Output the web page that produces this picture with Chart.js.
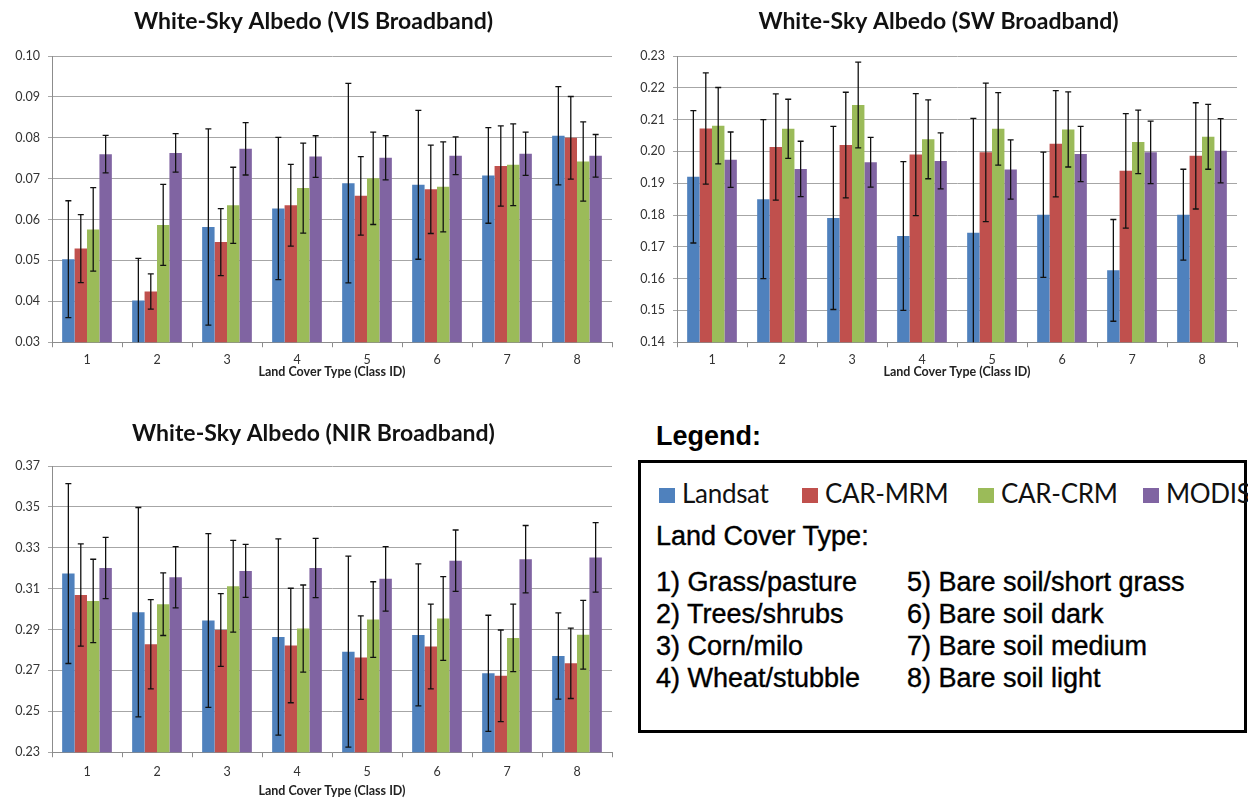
<!DOCTYPE html>
<html lang="en">
<head>
  <meta charset="UTF-8">
  <title>White-Sky Albedo</title>
  <style>
    body { margin: 0; background: #fff; width: 1248px; height: 798px; position: relative; overflow: hidden; }
    canvas { position: absolute; }
    .txt { position: absolute; font-family: "Liberation Sans", Arial, sans-serif; font-size: 27px; line-height: 27px; color: #000; white-space: nowrap; -webkit-text-stroke: 0.4px #000; }
    #legendBox { position: absolute; left: 638px; top: 460px; width: 609px; height: 273px; box-sizing: border-box; border: 3px solid #000; }
    .swatch { position: absolute; width: 16px; height: 15px; }
    .sname { position: absolute; font-family: Lato, sans-serif; font-size: 26px; line-height: 26px; letter-spacing: -0.3px; color: #111; white-space: nowrap; }
  </style>
</head>
<body>

  <canvas id="visChart" width="624" height="400" style="left:0;top:0"></canvas>
  <canvas id="swChart" width="624" height="400" style="left:624px;top:0"></canvas>
  <canvas id="nirChart" width="624" height="398" style="left:0;top:400px"></canvas>

  <div class="txt" style="left:656px;top:423px;font-weight:bold;-webkit-text-stroke:0">Legend:</div>
  <div id="legendBox"></div>
  <div id="legendItems"></div>

  <script src="https://cdn.jsdelivr.net/npm/chart.js"></script>

  <script>
    // class ids on the x axis
    const classIds = ['1', '2', '3', '4', '5', '6', '7', '8']
    const seriesNames = ['Landsat', 'CAR-MRM', 'CAR-CRM', 'MODIS']
    const seriesColors = ['#4F81BD', '#C0504D', '#9BBB59', '#8064A2']
    const landCoverTypes = ['Grass/pasture', 'Trees/shrubs', 'Corn/milo', 'Wheat/stubble',
      'Bare soil/short grass', 'Bare soil dark', 'Bare soil medium', 'Bare soil light']

    // VIS broadband
    const landsatVis = [0.0503, 0.0402, 0.0582, 0.0627, 0.0689, 0.0685, 0.0708, 0.0805]
    const landsatVisErr = [0.0143, 0.0103, 0.0240, 0.0174, 0.0244, 0.0182, 0.0117, 0.0120]
    const mrmVis = [0.0529, 0.0424, 0.0545, 0.0635, 0.0658, 0.0674, 0.0731, 0.0800]
    const mrmVisErr = [0.0083, 0.0043, 0.0082, 0.0100, 0.0096, 0.0108, 0.0098, 0.0101]
    const crmVis = [0.0576, 0.0587, 0.0635, 0.0677, 0.0701, 0.0680, 0.0734, 0.0742]
    const crmVisErr = [0.0102, 0.0099, 0.0093, 0.0110, 0.0113, 0.0110, 0.0100, 0.0097]
    const modisVis = [0.0760, 0.0763, 0.0773, 0.0754, 0.0751, 0.0756, 0.0761, 0.0756]
    const modisVisErr = [0.0046, 0.0047, 0.0064, 0.0051, 0.0054, 0.0046, 0.0053, 0.0052]

    // SW broadband
    const landsatSw = [0.1920, 0.1850, 0.1791, 0.1734, 0.1744, 0.1801, 0.1626, 0.1801]
    const landsatSwErr = [0.0208, 0.0250, 0.0288, 0.0234, 0.0360, 0.0197, 0.0160, 0.0143]
    const mrmSw = [0.2072, 0.2014, 0.2020, 0.1990, 0.1997, 0.2024, 0.1939, 0.1986]
    const mrmSwErr = [0.0175, 0.0167, 0.0166, 0.0192, 0.0218, 0.0167, 0.0180, 0.0167]
    const crmSw = [0.2081, 0.2071, 0.2146, 0.2038, 0.2071, 0.2069, 0.2030, 0.2046]
    const crmSwErr = [0.0120, 0.0093, 0.0135, 0.0124, 0.0114, 0.0118, 0.0100, 0.0102]
    const modisSw = [0.1974, 0.1945, 0.1966, 0.1970, 0.1943, 0.1992, 0.1997, 0.2002]
    const modisSwErr = [0.0087, 0.0087, 0.0078, 0.0088, 0.0093, 0.0087, 0.0098, 0.0101]

    // NIR broadband
    const landsatNir = [0.3174, 0.2985, 0.2944, 0.2864, 0.2792, 0.2874, 0.2686, 0.2771]
    const landsatNirErr = [0.0440, 0.0512, 0.0425, 0.0480, 0.0467, 0.0347, 0.0284, 0.0211]
    const mrmNir = [0.3069, 0.2828, 0.2898, 0.2822, 0.2763, 0.2817, 0.2674, 0.2735]
    const mrmNirErr = [0.0250, 0.0218, 0.0178, 0.0280, 0.0204, 0.0207, 0.0224, 0.0172]
    const crmNir = [0.3040, 0.3024, 0.3112, 0.2905, 0.2949, 0.2954, 0.2859, 0.2875]
    const crmNirErr = [0.0204, 0.0153, 0.0224, 0.0213, 0.0185, 0.0205, 0.0165, 0.0168]
    const modisNir = [0.3201, 0.3156, 0.3187, 0.3201, 0.3148, 0.3237, 0.3244, 0.3253]
    const modisNirErr = [0.0150, 0.0150, 0.0130, 0.0145, 0.0158, 0.0150, 0.0165, 0.0170]

    // +/- error bars, drawn through the y scale of each chart
    const errorBars = {
      id: 'errorBars',
      afterDatasetsDraw(chart) {
        const ctx = chart.ctx
        const a = chart.chartArea
        const y = chart.scales.y
        ctx.save()
        ctx.beginPath()
        ctx.rect(a.left, a.top, a.right - a.left, a.bottom - a.top)
        ctx.clip()
        ctx.strokeStyle = '#111'
        ctx.lineWidth = 1.3
        chart.data.datasets.forEach(function (ds, i) {
          chart.getDatasetMeta(i).data.forEach(function (bar, j) {
            const v = ds.data[j], e = ds.errors[j]
            const yTop = y.getPixelForValue(v + e)
            const yBot = y.getPixelForValue(v - e)
            ctx.beginPath()
            ctx.moveTo(bar.x, yTop)
            ctx.lineTo(bar.x, yBot)
            ctx.moveTo(bar.x - 3, yTop)
            ctx.lineTo(bar.x + 3, yTop)
            if (v - e >= y.min) {
              ctx.moveTo(bar.x - 3, yBot)
              ctx.lineTo(bar.x + 3, yBot)
            }
            ctx.stroke()
          })
        })
        ctx.restore()
      }
    }

    function makeChart (id, title, values, errors, yMin, yMax, step, box) {
      const datasets = seriesNames.map(function (name, i) {
        return {
          label: name,
          data: values[i],
          errors: errors[i],
          backgroundColor: seriesColors[i],
          borderWidth: 0,
          categoryPercentage: 0.71,
          barPercentage: 1.0
        }
      })

      return new Chart(document.getElementById(id), {
        type: 'bar',
        data: { labels: classIds, datasets: datasets },
        plugins: [errorBars],
        options: {
          responsive: false,
          animation: false,
          layout: { padding: { left: box.padL, right: box.padR, top: 0, bottom: box.padB } },
          plugins: {
            legend: { display: false },
            tooltip: { enabled: false },
            title: {
              display: true,
              text: title,
              color: '#111',
              font: { family: 'Lato', size: 23, weight: 'bold' },
              padding: { top: box.titleTop, bottom: box.titleBottom }
            }
          },
          scales: {
            x: {
              grid: { display: true, drawOnChartArea: false, drawTicks: true, tickLength: 5, color: '#8c8c8c' },
              border: { color: '#8c8c8c' },
              ticks: { color: '#333', font: { family: 'Lato', size: 12.5, lineHeight: 1 }, padding: box.tickPad, maxRotation: 0 },
              title: {
                display: true,
                text: 'Land Cover Type (Class ID)',
                color: '#222',
                font: { family: 'Lato', size: 12.5, weight: 'bold', lineHeight: 1 },
                padding: { top: box.axisTitlePad, bottom: 0 }
              }
            },
            y: {
              min: yMin,
              max: yMax,
              afterFit: function (scale) { scale.width = box.yw },
              grid: { color: '#a6a6a6', tickLength: 4 },
              border: { color: '#8c8c8c' },
              ticks: {
                stepSize: step,
                color: '#333',
                font: { family: 'Lato', size: 12.5 },
                padding: 8,
                callback: function (v) { return v.toFixed(2) }
              }
            }
          }
        }
      })
    }

    makeChart('visChart', 'White-Sky Albedo (VIS Broadband)',
      [landsatVis, mrmVis, crmVis, modisVis],
      [landsatVisErr, mrmVisErr, crmVisErr, modisVisErr],
      0.03, 0.10, 0.01,
      { padL: 15, yw: 37, padR: 12, padB: 21.75, titleTop: 7.7, titleBottom: 20.7, tickPad: 6.75, axisTitlePad: -7.5 })

    makeChart('swChart', 'White-Sky Albedo (SW Broadband)',
      [landsatSw, mrmSw, crmSw, modisSw],
      [landsatSwErr, mrmSwErr, crmSwErr, modisSwErr],
      0.14, 0.23, 0.01,
      { padL: 16, yw: 37, padR: 11, padB: 21.75, titleTop: 7.7, titleBottom: 20.7, tickPad: 6.75, axisTitlePad: -7.5 })

    makeChart('nirChart', 'White-Sky Albedo (NIR Broadband)',
      [landsatNir, mrmNir, crmNir, modisNir],
      [landsatNirErr, mrmNirErr, crmNirErr, modisNirErr],
      0.23, 0.37, 0.02,
      { padL: 15, yw: 37, padR: 12, padB: 0.75, titleTop: 20.2, titleBottom: 18.2, tickPad: 8.75, axisTitlePad: -2.5 })

    // shared legend box
    const items = document.getElementById('legendItems')
    let html = ''
    const nameLeft = [682, 825, 1001, 1166]
    seriesNames.forEach(function (name, i) {
      html += '<div class="swatch" style="left:' + (nameLeft[i] - 23) + 'px;top:488px;background:' + seriesColors[i] + '"></div>'
      html += '<div class="sname" style="left:' + nameLeft[i] + 'px;top:480px">' + name + '</div>'
    })
    html += '<div class="txt" style="left:656px;top:523px">Land Cover Type:</div>'
    landCoverTypes.forEach(function (t, i) {
      const col = i < 4 ? 656 : 907
      const top = 569 + (i % 4) * 32
      html += '<div class="txt" style="left:' + col + 'px;top:' + top + 'px">' + (i + 1) + ') ' + t + '</div>'
    })
    items.innerHTML = html
  </script>

</body>
</html>
